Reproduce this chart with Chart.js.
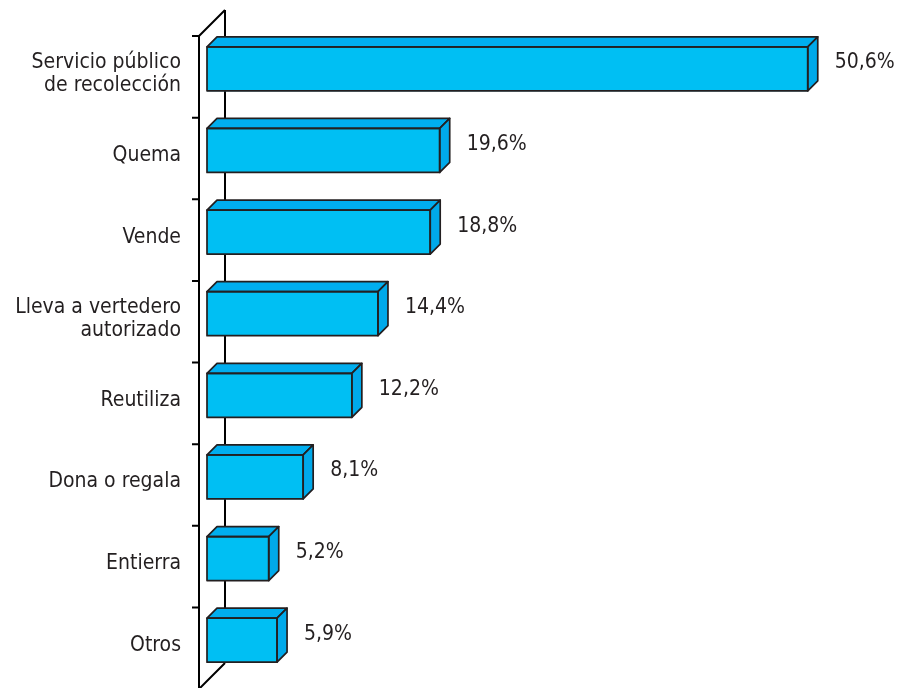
<!DOCTYPE html>
<html>
<head>
<meta charset="utf-8">
<script src="https://cdn.jsdelivr.net/npm/chart.js@4.4.0/dist/chart.umd.min.js"></script>
<style>
html,body{margin:0;padding:0;background:#fff;}
#wrap{width:897px;height:688px;position:relative;}
</style>
</head>
<body>
<div id="wrap"><canvas id="c" width="897" height="688"></canvas></div>
<script>
const categories = [
  ["Servicio público", "de recolección"],
  "Quema",
  "Vende",
  ["Lleva a vertedero", "autorizado"],
  "Reutiliza",
  "Dona o regala",
  "Entierra",
  "Otros"
];
const values = [50.6, 19.6, 18.8, 14.4, 12.2, 8.1, 5.2, 5.9];

const FRONT = '#00BFF3';
const TOP = '#00AEEF';
const SIDE = '#00A9EA';
const LINE = '#231F20';
const DEPTH = 10;
const WALL = 26;
const FONT = '"DejaVu Sans Condensed", "DejaVu Sans", "Noto Sans", sans-serif';
const FSIZE = 21;

const fmt = v => v.toFixed(1).replace('.', ',') + '%';

const wallPlugin = {
  id: 'wall',
  beforeDatasetsDraw(chart) {
    const ctx = chart.ctx;
    const ys = chart.scales.y;
    const n = categories.length;
    const step = (ys.bottom - ys.top) / n;
    const fx = chart.chartArea.left - 8;
    const top = ys.top + 8;
    const bot = ys.top + 8 + step * n;
    ctx.save();
    ctx.strokeStyle = '#000';
    ctx.lineWidth = 2;
    ctx.lineCap = 'butt';
    ctx.beginPath();
    ctx.moveTo(fx + WALL, top - WALL);
    ctx.lineTo(fx + WALL, bot - WALL);
    ctx.moveTo(fx, top);
    ctx.lineTo(fx + WALL, top - WALL);
    ctx.moveTo(fx, bot);
    ctx.lineTo(fx + WALL, bot - WALL);
    ctx.moveTo(fx, top);
    ctx.lineTo(fx, bot);
    for (let k = 0; k <= n; k++) {
      const y = top + step * k;
      ctx.moveTo(fx - 7, y);
      ctx.lineTo(fx, y);
    }
    ctx.stroke();
    ctx.restore();
  },
  afterDatasetsDraw(chart) {
    const ctx = chart.ctx;
    const meta = chart.getDatasetMeta(0);
    ctx.save();
    ctx.lineWidth = 1.7;
    ctx.strokeStyle = LINE;
    ctx.lineJoin = 'round';
    meta.data.forEach((el, i) => {
      const p = el.getProps(['x', 'y', 'base', 'height'], true);
      const t = p.y - p.height / 2;
      const b = p.y + p.height / 2;
      const l = p.base, r = p.x;
      ctx.beginPath();
      ctx.moveTo(l, t);
      ctx.lineTo(l + DEPTH, t - DEPTH);
      ctx.lineTo(r + DEPTH, t - DEPTH);
      ctx.lineTo(r, t);
      ctx.closePath();
      ctx.fillStyle = TOP;
      ctx.fill();
      ctx.stroke();
      ctx.beginPath();
      ctx.moveTo(r, t);
      ctx.lineTo(r + DEPTH, t - DEPTH);
      ctx.lineTo(r + DEPTH, b - DEPTH);
      ctx.lineTo(r, b);
      ctx.closePath();
      ctx.fillStyle = SIDE;
      ctx.fill();
      ctx.stroke();
      ctx.strokeRect(l, t, r - l, b - t);
      ctx.fillStyle = LINE;
      ctx.font = FSIZE + 'px ' + FONT;
      ctx.textAlign = 'left';
      ctx.textBaseline = 'middle';
      ctx.fillText(fmt(values[i]), r + DEPTH + 17, t + 16);
    });
    ctx.restore();
  }
};

new Chart(document.getElementById('c'), {
  type: 'bar',
  data: {
    labels: categories,
    datasets: [{
      data: values,
      backgroundColor: FRONT,
      borderWidth: 0,
      barThickness: 44
    }]
  },
  options: {
    indexAxis: 'y',
    responsive: false,
    animation: false,
    devicePixelRatio: 1,
    layout: { padding: { top: 28, bottom: 7, left: 0, right: 37 } },
    plugins: { legend: { display: false }, tooltip: { enabled: false } },
    scales: {
      x: { display: false, min: 0, max: 55 },
      y: {
        grid: { display: false, drawTicks: false },
        border: { display: false },
        afterFit(s) { s.width = 207; s.paddingTop = 0; s.paddingBottom = 0; },
        ticks: {
          padding: 26,
          labelOffset: 5,
          color: LINE,
          font: { family: FONT, size: FSIZE, lineHeight: 1.1 }
        }
      }
    }
  },
  plugins: [wallPlugin]
});
</script>
</body>
</html>
